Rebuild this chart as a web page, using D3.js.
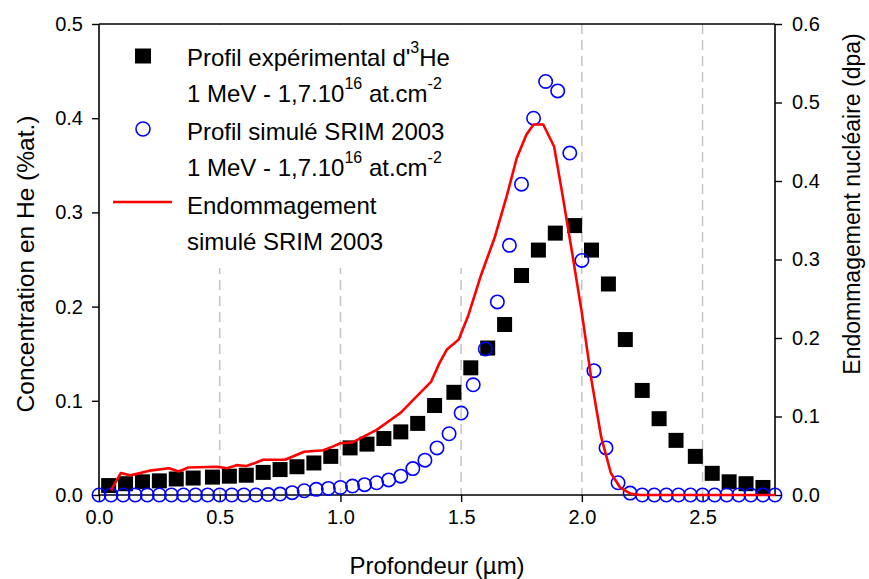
<!DOCTYPE html>
<html>
<head>
<meta charset="utf-8">
<script src="https://cdn.jsdelivr.net/npm/d3@7"></script>
<style>
  html, body { margin: 0; padding: 0; background: #fff; }
  svg { display: block; font-family: "Liberation Sans", Arial, sans-serif; }
</style>
</head>
<body>
<svg id="chart" width="869" height="579"></svg>
<script>
// ---------- data ----------
const depthExp = [0.04,0.11,0.18,0.25,0.32,0.39,0.47,0.54,0.61,0.68,0.75,0.82,0.89,0.96,1.04,1.11,1.18,1.25,1.32,1.39,1.47,1.54,1.61,1.68,1.75,1.82,1.89,1.97,2.04,2.11,2.18,2.25,2.32,2.39,2.47,2.54,2.61,2.68,2.75];
const concExp  = [0.010,0.012,0.014,0.015,0.017,0.018,0.019,0.020,0.021,0.024,0.027,0.030,0.034,0.041,0.050,0.054,0.060,0.067,0.076,0.095,0.109,0.135,0.156,0.181,0.233,0.260,0.278,0.286,0.260,0.224,0.165,0.111,0.081,0.058,0.041,0.023,0.014,0.012,0.008];

const depthSim = [0.00,0.05,0.10,0.15,0.20,0.25,0.30,0.35,0.40,0.45,0.50,0.55,0.60,0.65,0.70,0.75,0.80,0.85,0.90,0.95,1.00,1.05,1.10,1.15,1.20,1.25,1.30,1.35,1.40,1.45,1.50,1.55,1.60,1.65,1.70,1.75,1.80,1.85,1.90,1.95,2.00,2.05,2.10,2.15,2.20,2.25,2.30,2.35,2.40,2.45,2.50,2.55,2.60,2.65,2.70,2.75,2.80];
const concSim  = [0,0,0,0,0,0,0,0,0,0,0,0,0,0,0.0005,0.001,0.0025,0.0045,0.006,0.007,0.008,0.0095,0.011,0.013,0.016,0.020,0.028,0.037,0.050,0.065,0.087,0.117,0.155,0.205,0.265,0.330,0.400,0.439,0.429,0.363,0.249,0.132,0.050,0.013,0.002,0,0,0,0,0,0,0,0,0,0,0,0];

const depthDmg = [0.05,0.09,0.13,0.21,0.29,0.33,0.37,0.49,0.53,0.57,0.61,0.64,0.68,0.77,0.81,0.85,0.93,0.97,1.00,1.05,1.10,1.15,1.20,1.25,1.33,1.375,1.41,1.44,1.49,1.53,1.58,1.64,1.69,1.73,1.77,1.80,1.84,1.885,1.92,1.96,2.00,2.04,2.08,2.12,2.16,2.20,2.24,2.80];
const dpaDmg   = [0.006,0.028,0.025,0.031,0.034,0.030,0.035,0.036,0.034,0.038,0.037,0.040,0.045,0.045,0.050,0.055,0.057,0.062,0.066,0.067,0.075,0.083,0.094,0.105,0.130,0.144,0.168,0.185,0.198,0.229,0.278,0.329,0.382,0.429,0.459,0.472,0.472,0.444,0.382,0.308,0.232,0.146,0.074,0.028,0.009,0.002,0,0];

const xTicks = [0, 0.5, 1.0, 1.5, 2.0, 2.5];
const yLeftTicks = [0, 0.1, 0.2, 0.3, 0.4, 0.5];
const yRightTicks = [0, 0.1, 0.2, 0.3, 0.4, 0.5, 0.6];
const gridTicks = [0.5, 1.0, 1.5, 2.0, 2.5];

const xTitle = "Profondeur (µm)";
const yLeftTitle = "Concentration en He (%at.)";
const yRightTitle = "Endommagement nucléaire (dpa)";

// ---------- layout ----------
const svg = d3.select("#chart");
const L = 99, R = 775, T = 24, B = 495;
const x = d3.scaleLinear().domain([0, 2.8]).range([L, R]);
const yL = d3.scaleLinear().domain([0, 0.5]).range([B, T]);
const yR = d3.scaleLinear().domain([0, 0.6]).range([B, T]);
const fmt = d3.format(".1f");

// gridlines
svg.append("g").selectAll("line").data(gridTicks).join("line")
  .attr("x1", d => x(d)).attr("x2", d => x(d))
  .attr("y1", T).attr("y2", B)
  .attr("stroke", "#c4c4c4").attr("stroke-width", 1.5)
  .attr("stroke-dasharray", "10,6");

// legend background (hides gridlines behind legend)
svg.append("rect").attr("x", L + 1).attr("y", T + 1).attr("width", 372).attr("height", 243).attr("fill", "#fff");

// axes
const axB = svg.append("g").attr("transform", `translate(0,${B})`)
  .call(d3.axisBottom(x).tickValues(xTicks).tickFormat(fmt).tickSize(7).tickPadding(8));
const axL = svg.append("g").attr("transform", `translate(${L},0)`)
  .call(d3.axisLeft(yL).tickValues(yLeftTicks).tickFormat(fmt).tickSize(7).tickPadding(9));
const axR = svg.append("g").attr("transform", `translate(${R},0)`)
  .call(d3.axisRight(yR).tickValues(yRightTicks).tickFormat(fmt).tickSize(7).tickPadding(10));
const axT = svg.append("g").attr("transform", `translate(0,${T})`)
  .call(d3.axisTop(x).tickValues([]).tickSizeOuter(0));
[axB, axL, axR, axT].forEach(g => {
  g.select(".domain").attr("stroke", "#000").attr("stroke-width", 1.6);
  g.selectAll(".tick line").attr("stroke", "#000").attr("stroke-width", 1.4);
  g.selectAll(".tick text").attr("font-size", 20).attr("fill", "#000")
    .attr("font-family", "'Liberation Sans', Arial, sans-serif");
});
axB.select(".domain").attr("d", `M${L},0H${R}`);
axL.select(".domain").attr("d", `M0,${B}V${T}`);
axR.select(".domain").attr("d", `M0,${B}V${T}`);
axT.select(".domain").attr("d", `M${L},0H${R}`);

// titles
svg.append("text").attr("x", (L + R) / 2).attr("y", 574).attr("text-anchor", "middle")
  .attr("font-size", 24).text(xTitle);
svg.append("text").attr("transform", `translate(34,264) rotate(-90)`)
  .attr("text-anchor", "middle").attr("font-size", 24.5).text(yLeftTitle);
svg.append("text").attr("transform", `translate(860,204) rotate(-90)`)
  .attr("text-anchor", "middle").attr("font-size", 23).text(yRightTitle);

// series: experimental squares
const sq = 15;
svg.append("g").selectAll("rect").data(depthExp.map((d, i) => [d, concExp[i]])).join("rect")
  .attr("x", d => x(d[0]) - sq / 2).attr("y", d => yL(d[1]) - sq / 2)
  .attr("width", sq).attr("height", sq).attr("fill", "#000");

// simulated circles
svg.append("g").selectAll("circle").data(depthSim.map((d, i) => [d, concSim[i]])).join("circle")
  .attr("cx", d => x(d[0])).attr("cy", d => yL(d[1])).attr("r", 6.7)
  .attr("fill", "none").attr("stroke", "#0000ff").attr("stroke-width", 1.6);

// damage line
const line = d3.line().x(d => x(d[0])).y(d => yR(d[1]));
svg.append("path").datum(depthDmg.map((d, i) => [d, dpaDmg[i]]))
  .attr("d", line).attr("fill", "none").attr("stroke", "#ff0000").attr("stroke-width", 2.6)
  .attr("stroke-linejoin", "round");

// ---------- legend ----------
const lg = svg.append("g").attr("font-size", 24).attr("fill", "#000");
const tx = 187;
function supLine(yb, parts) {
  const t = lg.append("text").attr("x", tx).attr("y", yb);
  let raised = false;
  parts.forEach(p => {
    if (p.sup) {
      t.append("tspan").attr("font-size", 16).attr("dy", raised ? 0 : -13).text(p.s);
      raised = true;
    } else {
      t.append("tspan").attr("dy", raised ? 13 : 0).text(p.s);
      raised = false;
    }
  });
}
lg.append("rect").attr("x", 143 - 8).attr("y", 56 - 7.5).attr("width", 16).attr("height", 15).attr("fill", "#000");
supLine(66, [{s: "Profil expérimental d'"}, {s: "3", sup: true}, {s: "He"}]);
supLine(102, [{s: "1 MeV - 1,7.10"}, {s: "16", sup: true}, {s: " at.cm"}, {s: "-2", sup: true}]);
lg.append("circle").attr("cx", 143).attr("cy", 129).attr("r", 7).attr("fill", "none")
  .attr("stroke", "#0000ff").attr("stroke-width", 1.6);
supLine(140, [{s: "Profil simulé SRIM 2003"}]);
supLine(176, [{s: "1 MeV - 1,7.10"}, {s: "16", sup: true}, {s: " at.cm"}, {s: "-2", sup: true}]);
lg.append("line").attr("x1", 113).attr("x2", 172).attr("y1", 202).attr("y2", 202)
  .attr("stroke", "#ff0000").attr("stroke-width", 2.6);
supLine(214, [{s: "Endommagement"}]);
supLine(250, [{s: "simulé SRIM 2003"}]);
</script>
</body>
</html>
